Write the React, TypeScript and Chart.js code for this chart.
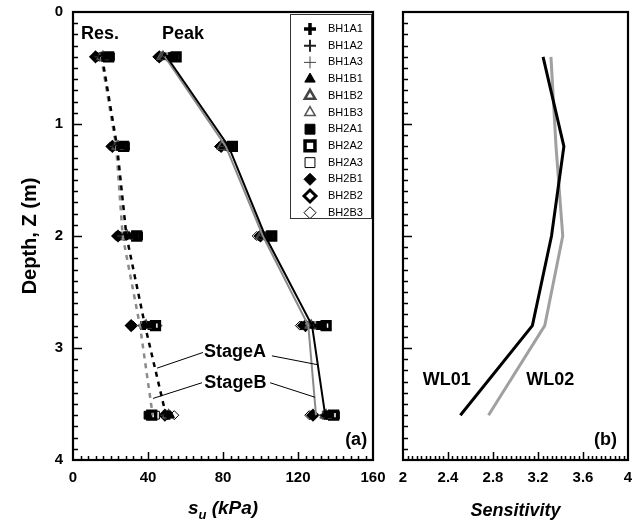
import React, { useEffect, useRef } from "react";
import { Chart, registerables } from "chart.js";
import { drawPoint } from "chart.js/helpers";

Chart.register(...registerables);

const FONT = "'Liberation Sans', Arial, Helvetica, sans-serif";

// ---------------- data ----------------
const depths = [0.4, 1.2, 2.0, 2.8, 3.6];
const seriesNames = ["BH1A1", "BH1A2", "BH1A3", "BH1B1", "BH1B2", "BH1B3", "BH2A1", "BH2A2", "BH2A3", "BH2B1", "BH2B2", "BH2B3"];

// peak undrained shear strength su (kPa) per sample
const peakBH1A1 = [52, 83, 104, 131, 135];
const peakBH1A2 = [51, 82, 103, 130, 134];
const peakBH1A3 = [50, 81, 102, 129, 133];
const peakBH1B1 = [49, 80, 101, 128, 136];
const peakBH1B2 = [48, 80, 100, 127, 135];
const peakBH1B3 = [47, 79, 100, 126, 134];
const peakBH2A1 = [54, 84, 105, 133, 137];
const peakBH2A2 = [55, 85, 106, 135, 139];
const peakBH2A3 = [53, 83, 104, 134, 140];
const peakBH2B1 = [47, 78, 99, 122, 127];
const peakBH2B2 = [46, 79, 100, 124, 128];
const peakBH2B3 = [45, 78, 98, 121, 126];

// residual su (kPa) per sample
const resBH1A1 = [16, 24, 28, 38, 51];
const resBH1A2 = [15, 23, 27, 37, 50];
const resBH1A3 = [14, 22, 26, 36, 49];
const resBH1B1 = [17, 25, 30, 40, 52];
const resBH1B2 = [16, 24, 29, 39, 51];
const resBH1B3 = [15, 23, 28, 38, 50];
const resBH2A1 = [18, 26, 33, 42, 40];
const resBH2A2 = [19, 27, 34, 44, 42];
const resBH2A3 = [20, 28, 35, 43, 44];
const resBH2B1 = [13, 20, 23, 32, 50];
const resBH2B2 = [12, 21, 24, 31, 49];
const resBH2B3 = [14, 22, 25, 45, 54];

const peakArrays = [peakBH1A1, peakBH1A2, peakBH1A3, peakBH1B1, peakBH1B2, peakBH1B3, peakBH2A1, peakBH2A2, peakBH2A3, peakBH2B1, peakBH2B2, peakBH2B3];
const resArrays = [resBH1A1, resBH1A2, resBH1A3, resBH1B1, resBH1B2, resBH1B3, resBH2A1, resBH2A2, resBH2A3, resBH2B1, resBH2B2, resBH2B3];

// average profiles
const stageAPeak = [50, 83, 102.5, 127.5, 134.5];
const stageBPeak = [49, 81.5, 101.3, 125.5, 129.6];
const stageARes = [15.5, 23.5, 28.5, 38.4, 49.6];
const stageBRes = [15, 23, 26.5, 35.7, 42.5];

// sensitivity
const sensWL01 = [3.245, 3.43, 3.32, 3.15, 2.51];
const sensWL02 = [3.315, 3.36, 3.42, 3.26, 2.76];

// axes
const suRange = [0, 160];
const sensRange = [2, 4];
const depthRange = [0, 4];

// ---------------- styles ----------------
const markerStyles = [
  { pointStyle: "cross", bg: "#000", border: "#000", bw: 3.5 },
  { pointStyle: "cross", bg: "#222", border: "#222", bw: 2 },
  { pointStyle: "cross", bg: "#444", border: "#444", bw: 1 },
  { pointStyle: "triangle", bg: "#000", border: "#000", bw: 1 },
  { pointStyle: "triangle", bg: "#fff", border: "#444", bw: 2.5 },
  { pointStyle: "triangle", bg: "#fff", border: "#555", bw: 1.5 },
  { pointStyle: "rect", bg: "#000", border: "#000", bw: 1 },
  { pointStyle: "rect", bg: "#fff", border: "#000", bw: 3.5 },
  { pointStyle: "rect", bg: "#fff", border: "#000", bw: 1 },
  { pointStyle: "rectRot", bg: "#000", border: "#000", bw: 1 },
  { pointStyle: "rectRot", bg: "#fff", border: "#000", bw: 3 },
  { pointStyle: "rectRot", bg: "#fff", border: "#000", bw: 1 },
];

const toPts = (xs: number[]) => xs.map((x, i) => ({ x, y: depths[i] }));

function drawFrameAndTicks(chart: any, xMinor: number, xMajorEvery: number, yMinor: number, yMajorEvery: number) {
  const { ctx, chartArea: a, scales } = chart;
  const xs = scales.x;
  const ys = scales.y;
  ctx.save();
  ctx.strokeStyle = "#000";
  ctx.lineWidth = 1.5;
  const nx = Math.round((xs.max - xs.min) / xMinor);
  for (let k = 1; k < nx; k++) {
    const px = Math.round(xs.getPixelForValue(xs.min + k * xMinor)) + 0.5;
    const len = k % xMajorEvery === 0 ? 8 : 4;
    ctx.beginPath();
    ctx.moveTo(px, a.bottom);
    ctx.lineTo(px, a.bottom - len);
    ctx.stroke();
  }
  const ny = Math.round((ys.max - ys.min) / yMinor);
  for (let k = 1; k < ny; k++) {
    const py = Math.round(ys.getPixelForValue(ys.min + k * yMinor)) + 0.5;
    const len = k % yMajorEvery === 0 ? 9 : 5;
    ctx.beginPath();
    ctx.moveTo(a.left, py);
    ctx.lineTo(a.left + len, py);
    ctx.stroke();
  }
  ctx.lineWidth = 2.2;
  ctx.strokeRect(a.left, a.top, a.right - a.left, a.bottom - a.top);
  ctx.restore();
}

function drawText(ctx: any, text: string, x: number, y: number, size: number, align = "center") {
  ctx.save();
  ctx.fillStyle = "#000";
  ctx.font = `bold ${size}px ${FONT}`;
  ctx.textAlign = align;
  ctx.textBaseline = "middle";
  ctx.fillText(text, x, y);
  ctx.restore();
}

// annotation placements in data units (su, depth)
const leftTexts = [
  { text: "Res.", x: 14.4, y: 0.2 },
  { text: "Peak", x: 58.7, y: 0.2 },
  { text: "StageA", x: 86.4, y: 3.04 },
  { text: "StageB", x: 86.6, y: 3.31 },
  { text: "(a)", x: 151, y: 3.82 },
];
const leaderLines = [
  [69.3, 3.04, 44.8, 3.18],
  [106.1, 3.07, 130.7, 3.15],
  [68.8, 3.31, 42.7, 3.45],
  [105.1, 3.31, 129.1, 3.44],
];
const rightTexts = [
  { text: "WL01", x: 2.39, y: 3.29 },
  { text: "WL02", x: 3.31, y: 3.29 },
  { text: "(b)", x: 3.8, y: 3.82 },
];

const leftPlugin = {
  id: "leftDecor",
  afterDatasetsDraw(chart: any) {
    const { ctx, chartArea: a, scales } = chart;
    const xs = scales.x;
    const ys = scales.y;
    drawFrameAndTicks(chart, 4, 10, 0.1, 10);
    // leader lines
    ctx.save();
    ctx.strokeStyle = "#000";
    ctx.lineWidth = 1;
    leaderLines.forEach(([x1, y1, x2, y2]) => {
      ctx.beginPath();
      ctx.moveTo(xs.getPixelForValue(x1), ys.getPixelForValue(y1));
      ctx.lineTo(xs.getPixelForValue(x2), ys.getPixelForValue(y2));
      ctx.stroke();
    });
    ctx.restore();
    leftTexts.forEach((t) => drawText(ctx, t.text, xs.getPixelForValue(t.x), ys.getPixelForValue(t.y), 18));

    // legend box
    const bx = a.right - 83;
    const by = a.top + 2;
    const bw = 81;
    const bh = 204;
    ctx.save();
    ctx.fillStyle = "#fff";
    ctx.fillRect(bx, by, bw, bh);
    ctx.strokeStyle = "#333";
    ctx.lineWidth = 1;
    ctx.strokeRect(bx + 0.5, by + 0.5, bw, bh);
    seriesNames.forEach((name, i) => {
      const st = markerStyles[i];
      const cy = by + 15 + i * 16.7;
      ctx.fillStyle = st.bg;
      ctx.strokeStyle = st.border;
      ctx.lineWidth = st.bw;
      drawPoint(ctx, { pointStyle: st.pointStyle, rotation: 0, radius: st.pointStyle === "rect" ? 7 : 6, borderWidth: st.bw }, bx + 20, cy);
      ctx.fillStyle = "#000";
      ctx.font = `11px ${FONT}`;
      ctx.textAlign = "left";
      ctx.textBaseline = "middle";
      ctx.fillText(name, bx + 38, cy);
    });
    ctx.restore();
  },
  afterDraw(chart: any) {
    const { ctx, chartArea: a } = chart;
    // x title: s_u (kPa)
    ctx.save();
    ctx.fillStyle = "#000";
    ctx.textBaseline = "alphabetic";
    ctx.textAlign = "left";
    const big = `italic bold 19px ${FONT}`;
    const small = `italic bold 13px ${FONT}`;
    ctx.font = big;
    const w1 = ctx.measureText("s").width;
    const w3 = ctx.measureText(" (kPa)").width;
    ctx.font = small;
    const w2 = ctx.measureText("u").width;
    const total = w1 + w2 + w3;
    let x = (a.left + a.right) / 2 - total / 2;
    const base = 514;
    ctx.font = big;
    ctx.fillText("s", x, base);
    x += w1;
    ctx.font = small;
    ctx.fillText("u", x, base + 5);
    x += w2;
    ctx.font = big;
    ctx.fillText(" (kPa)", x, base);
    ctx.restore();
  },
};

const rightPlugin = {
  id: "rightDecor",
  afterDatasetsDraw(chart: any) {
    const { ctx, scales } = chart;
    drawFrameAndTicks(chart, 0.04, 10, 0.1, 10);
    rightTexts.forEach((t) => drawText(ctx, t.text, scales.x.getPixelForValue(t.x), scales.y.getPixelForValue(t.y), 18));
  },
};

const tickFont = { family: FONT, size: 15, weight: "bold" as const };

const fixH = (h: number) => (s: any) => {
  s.height = h;
  s.paddingLeft = 0;
  s.paddingRight = 0;
  s.paddingTop = 0;
  s.paddingBottom = 0;
};
const fixW = (w: number) => (s: any) => {
  s.width = w;
  s.paddingLeft = 0;
  s.paddingRight = 0;
  s.paddingTop = 0;
  s.paddingBottom = 0;
};

export default function App() {
  const leftRef = useRef<HTMLCanvasElement>(null);
  const rightRef = useRef<HTMLCanvasElement>(null);

  useEffect(() => {
    const lineDs = (vals: number[], color: string, dash: number[], width: number) => ({
      data: toPts(vals),
      showLine: true,
      borderColor: color,
      borderWidth: width,
      borderDash: dash,
      pointRadius: 0,
      fill: false,
      order: 0,
    });

    const markerDs = seriesNames.map((name, i) => ({
      label: name,
      data: [...toPts(peakArrays[i]), ...toPts(resArrays[i])],
      showLine: false,
      pointStyle: markerStyles[i].pointStyle,
      pointRadius: markerStyles[i].pointStyle === "rect" ? 5.5 : 4.5,
      pointBackgroundColor: markerStyles[i].bg,
      pointBorderColor: markerStyles[i].border,
      pointBorderWidth: markerStyles[i].bw,
      order: 1,
    }));

    const left = new Chart(leftRef.current!, {
      type: "scatter",
      data: {
        datasets: [
          lineDs(stageAPeak, "#000", [], 2),
          lineDs(stageBPeak, "#8a8a8a", [], 2),
          lineDs(stageARes, "#000", [5, 5], 2.5),
          lineDs(stageBRes, "#8a8a8a", [5, 5], 2.5),
          ...markerDs,
        ] as any,
      },
      options: {
        animation: false,
        responsive: false,
        layout: { padding: { left: 0, top: 12, right: 17, bottom: 0 } },
        plugins: { legend: { display: false }, tooltip: { enabled: false } },
        scales: {
          x: {
            type: "linear",
            min: suRange[0],
            max: suRange[1],
            border: { display: false },
            grid: { display: false, drawTicks: false },
            ticks: { stepSize: 40, padding: 9, color: "#000", font: tickFont, maxRotation: 0 },
            afterFit: fixH(65),
          },
          y: {
            type: "linear",
            reverse: true,
            min: depthRange[0],
            max: depthRange[1],
            border: { display: false },
            grid: { display: false, drawTicks: false },
            ticks: { stepSize: 1, padding: 10, color: "#000", font: tickFont },
            title: {
              display: true,
              text: "Depth, Z (m)",
              color: "#000",
              font: { family: FONT, size: 20, weight: "bold" },
              padding: { top: 18, bottom: 0 },
            },
            afterFit: fixW(73),
          },
        },
      } as any,
      plugins: [leftPlugin],
    });

    const right = new Chart(rightRef.current!, {
      type: "scatter",
      data: {
        datasets: [
          { ...lineDs(sensWL01, "#000", [], 3) },
          { ...lineDs(sensWL02, "#a0a0a0", [], 3) },
        ] as any,
      },
      options: {
        animation: false,
        responsive: false,
        layout: { padding: { left: 0, top: 12, right: 14, bottom: 0 } },
        plugins: { legend: { display: false }, tooltip: { enabled: false } },
        scales: {
          x: {
            type: "linear",
            min: sensRange[0],
            max: sensRange[1],
            border: { display: false },
            grid: { display: false, drawTicks: false },
            ticks: {
              stepSize: 0.4,
              padding: 9,
              color: "#000",
              font: tickFont,
              maxRotation: 0,
              callback: (v: any) => String(Number(Number(v).toFixed(1))),
            },
            title: {
              display: true,
              text: "Sensitivity",
              color: "#000",
              font: { family: FONT, size: 18, weight: "bold", style: "italic" },
              padding: { top: 0, bottom: 3 },
            },
            afterFit: fixH(65),
          },
          y: {
            type: "linear",
            reverse: true,
            min: depthRange[0],
            max: depthRange[1],
            border: { display: false },
            grid: { display: false, drawTicks: false },
            ticks: { display: false, stepSize: 1 },
            afterFit: fixW(13),
          },
        },
      } as any,
      plugins: [rightPlugin],
    });

    return () => {
      left.destroy();
      right.destroy();
    };
  }, []);

  return (
    <div style={{ position: "absolute", left: 0, top: 0, width: 642, height: 525, background: "#fff" }}>
      <canvas ref={leftRef} width={390} height={525} style={{ position: "absolute", left: 0, top: 0, display: "block" }} />
      <canvas ref={rightRef} width={252} height={525} style={{ position: "absolute", left: 390, top: 0, display: "block" }} />
    </div>
  );
}
